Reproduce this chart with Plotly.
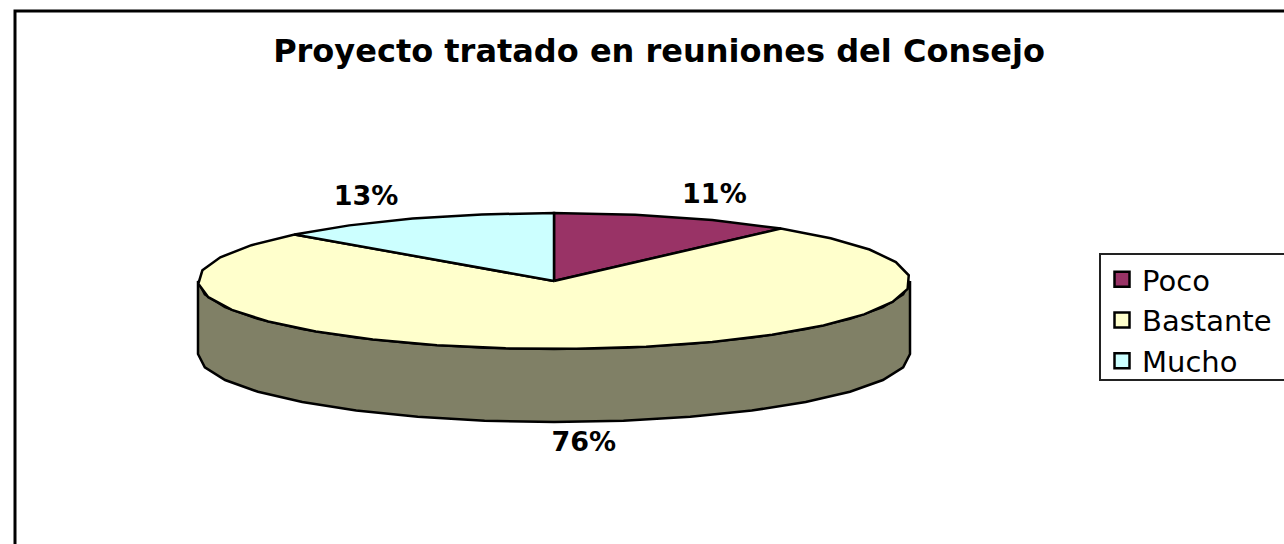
import numpy as np
import plotly.graph_objects as go

categories = ["Poco", "Bastante", "Mucho"]
values = [11, 76, 13]
colors = ["#993366", "#FFFFCC", "#CCFFFF"]
title = "Proyecto tratado en reuniones del Consejo"

W, H = 1284, 544
CX, CY, RX, RY, DEPTH = 554, 281, 356, 68, 73
SIDE = "#808066"
FONT = "DejaVu Sans"


def pt(deg, dy=0):
    a = np.radians(deg)
    return CX + RX * np.sin(a), CY - RY * np.cos(a) + dy


def arc(a0, a1, dy=0):
    n = max(2, int(abs(a1 - a0) / 11) + 1)
    d = np.linspace(a0, a1, n)
    return pt(d, dy)


fig = go.Figure()

# extruded front wall
tx, ty = arc(90, 270)
bx, by = arc(270, 90, DEPTH)
fig.add_trace(go.Scatter(
    x=list(tx) + list(bx) + [tx[0]], y=list(ty) + list(by) + [ty[0]],
    mode="lines", fill="toself", fillcolor=SIDE,
    line=dict(color="black", width=2.5), showlegend=False, hoverinfo="skip"))

total = sum(values)
start = 0.0
lx, ly, lt = [], [], []
for name, v, c in zip(categories, values, colors):
    end = start + 360.0 * v / total
    ax, ay = arc(start, end)
    fig.add_trace(go.Scatter(
        x=[CX] + list(ax) + [CX], y=[CY] + list(ay) + [CY],
        mode="lines", fill="toself", fillcolor=c,
        line=dict(color="black", width=2.5), showlegend=False, hoverinfo="skip"))
    mid = np.radians((start + end) / 2)
    k = 1.33
    lx.append(CX + RX * k * np.sin(mid))
    ly.append(CY - RY * k * np.cos(mid) + (DEPTH if np.cos(mid) < 0 else 0))
    lt.append(f"{round(100 * v / total)}%")
    start = end

fig.add_trace(go.Scatter(
    x=lx, y=ly, text=lt, mode="text", showlegend=False, hoverinfo="skip",
    textfont=dict(family=FONT, size=27, color="black", weight="bold")))

# legend entries
for name, c in zip(categories, colors):
    fig.add_trace(go.Scatter(
        x=[None], y=[None], mode="markers", name=name, legendgroup=name,
        marker=dict(symbol="square", size=15, color=c,
                    line=dict(color="black", width=2.5))))

fig.update_layout(
    width=W, height=H, margin=dict(l=0, r=0, t=0, b=0),
    paper_bgcolor="white", plot_bgcolor="white",
    title=dict(text=f"<b>{title}</b>", x=659 / W, xanchor="center", xref="paper",
               y=1 - 51 / H, yanchor="middle", yref="container",
               font=dict(family=FONT, size=32, color="black")),
    xaxis=dict(range=[0, W], visible=False, fixedrange=True),
    yaxis=dict(range=[H, 0], visible=False, fixedrange=True),
    legend=dict(x=1102 / W, xanchor="left", y=1 - 254 / H, yanchor="top",
                traceorder="grouped", tracegroupgap=0, bgcolor="rgba(0,0,0,0)",
                borderwidth=0, itemwidth=30,
                font=dict(family=FONT, size=29, color="black")),
    shapes=[
        dict(type="rect", xref="x", yref="y", x0=15, y0=11, x1=W + 20, y1=H + 20,
             line=dict(color="black", width=3), fillcolor="rgba(0,0,0,0)", layer="below"),
        dict(type="rect", xref="x", yref="y", x0=1100, y0=254, x1=W + 20, y1=380,
             line=dict(color="#222222", width=2), fillcolor="white", layer="below"),
    ],
)
fig.write_html("out.html", config=dict(displayModeBar=False),
               post_script="document.body.style.margin='0';")
